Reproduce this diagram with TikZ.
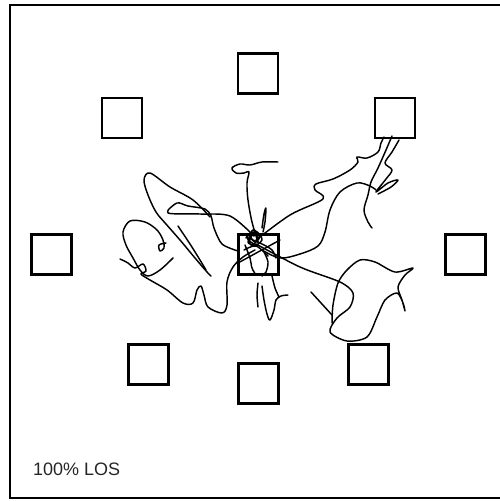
\documentclass[tikz,border=0pt]{standalone}
\usepackage{fontspec}
\newfontfamily\labelfont{Liberation Sans}
\begin{document}
\begin{tikzpicture}[x=1pt,y=-1pt,
  bx/.style={draw,line width=2.8pt,minimum size=40pt,inner sep=0pt,anchor=center},
  scr/.style={line width=1.45pt,line cap=round,line join=round}]
\useasboundingbox (0,0) rectangle (499,501);
\draw[line width=2.6pt] (10,5) rectangle (501,498);
% receivers
\node[bx] (top) at (258,73.5) {};
\node[bx] (tl) at (122,118) {};
\node[bx] (tr) at (395,118) {};
\node[bx] (lft) at (51.5,254.5) {};
\node[bx] (ctr) at (258.5,254.5) {};
\node[bx] (rgt) at (465.5,254.5) {};
\node[bx] (bl) at (148.5,364.5) {};
\node[bx] (bot) at (258.5,383.5) {};
\node[bx] (br) at (368.5,364.5) {};
\node[anchor=west,inner sep=0pt,text=black!85] (lbl) at (33,469) {\labelfont\fontsize{18}{20}\selectfont 100\% LOS};
% scribble
\draw[scr] plot[smooth,tension=0.55] coordinates {(256,240) (290,215) (323,199) (315,190) (316,184) (333,179) (350,170) (358,162) (357,157) (367,158) (378,152) (381,143) (384,137)};
\draw[scr] plot[smooth,tension=0.55] coordinates {(392,136) (386,150) (378,168) (371,182) (368,195) (364,210) (368,222) (372,228)};
\draw[scr] plot[smooth,tension=0.55] coordinates {(399,140) (392,152) (385,163) (392,170) (386,179) (376,192) (388,183) (398,180) (391,187) (378,194)};
\draw[scr] plot[smooth,tension=0.55] coordinates {(262,250) (280,258) (300,254) (318,246) (325,232) (330,210) (340,192) (357,183) (370,186) (376,190)};
\draw[scr] plot[smooth,tension=0.5] coordinates {(256,244) (300,267) (340,282) (353,293) (350,307) (337,318) (330,332) (347,341) (367,337) (377,317) (385,300) (397,293) (403,303) (405,311) (402,300) (398,287) (405,275) (413,268) (395,272) (375,262) (360,260) (347,270) (338,283) (333,305) (332,323)};
\draw[scr] (332,315) -- (311,292);
% top stem and loop
\draw[scr] plot[smooth,tension=0.55] coordinates {(258,242) (252,222) (248,200) (247,183) (249,172) (244,173) (236,173) (232,168) (240,164) (250,165) (262,162) (278,162)};
\draw[scr] plot[smooth,tension=0.55] coordinates {(262,228) (264,214) (266,208) (265,222) (263,232)};
% upper left
\draw[scr] plot[smooth,tension=0.5] coordinates {(254,236) (230,216) (200,214) (168,213) (177,203) (188,206) (205,209) (211,216) (214,228) (222,244) (238,251)};
\draw[scr] plot[smooth,tension=0.55] coordinates {(210,217) (193,200) (170,187) (150,173) (144,180) (148,195) (156,212) (166,224) (180,240) (195,258) (207,272) (211,276)};
\draw[scr] plot[smooth,tension=0.55] coordinates {(178,226) (190,244) (200,260) (206,270)};
% left loop
\draw[scr] plot[smooth,tension=0.55] coordinates {(173,258) (160,270) (148,276) (140,270) (133,258) (126,245) (123,232) (130,221) (145,222) (157,230) (163,240) (164,248) (160,251) (159,245) (166,243)};
% lower left tail to center
\draw[scr] plot[smooth,tension=0.55] coordinates {(120,259) (128,263) (135,268) (143,264) (146,271) (141,274) (150,280) (167,290) (183,303) (193,303) (197,290) (201,286) (204,295) (208,307) (222,313) (227,305) (227,282) (233,267) (243,257) (255,250)};
% below centre
\draw[scr] plot[smooth,tension=0.5] coordinates {(258,283) (257,295) (258,307)};
\draw[scr] plot[smooth,tension=0.55] coordinates {(262,286) (264,300) (267,314) (270,320) (274,310) (276,300) (281,296) (288,295)};
\draw[scr] plot[smooth,tension=0.55] coordinates {(272,276) (275,288) (279,297)};
% centre tangle
\draw[scr] (238,263) -- (280,240);
\draw[scr] plot[smooth,tension=0.55] coordinates {(245,245) (250,258) (252,268) (256,275)};
\draw[scr] plot[smooth,tension=0.55] coordinates {(264,252) (268,262) (266,272) (262,276)};
\draw[scr] plot[smooth,tension=0.55] coordinates {(248,238) (262,244) (272,250) (276,258)};
\draw[scr] plot[smooth,tension=0.55] coordinates {(244,250) (256,246) (268,256)};
\draw[scr] plot[smooth,tension=0.6] coordinates {(246,238) (252,232) (258,236) (254,244) (248,242) (256,232) (262,240) (252,246) (246,234)};
\draw[scr] plot[smooth,tension=0.6] coordinates {(250,236) (255,242) (260,236) (253,230) (249,240) (258,246)};
\end{tikzpicture}
\end{document}
